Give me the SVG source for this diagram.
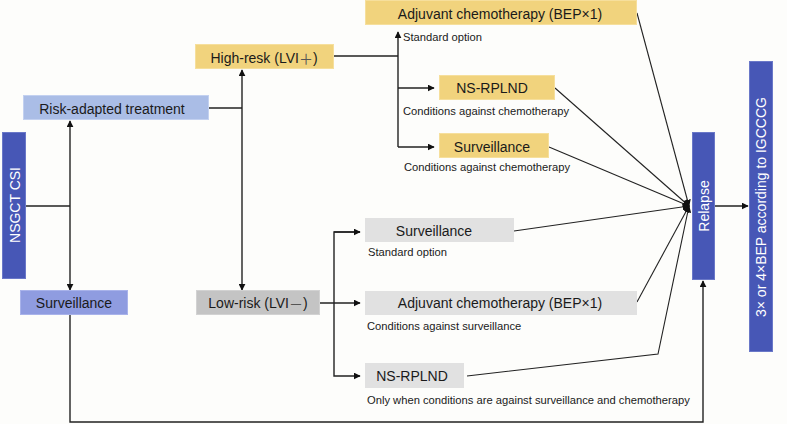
<svg xmlns="http://www.w3.org/2000/svg" width="787" height="424" viewBox="0 0 787 424">
<style>
text{font-family:"Liberation Sans",Arial,sans-serif;fill:#1a1a1a}
.t{font-size:14px;text-anchor:middle;dominant-baseline:central}
.s{font-size:11.2px;dominant-baseline:central}
.w{fill:#ffffff;font-size:14px;text-anchor:middle;dominant-baseline:central}
.cjk{font-family:"Noto Sans CJK SC",sans-serif;fill:#555}
.dark{fill:#4757b6;stroke:#6a78c8;stroke-width:1}
.lb{fill:#aabde6;stroke:#c3d1f0;stroke-width:1}
.pb{fill:#8f9ce0;stroke:#a9b3ea;stroke-width:1}
.gd{fill:#f1d37d;stroke:#f6df9c;stroke-width:1}
.gy{fill:#e1e1e1}
.lr{fill:#c4c4c4;stroke:#d2d2d2;stroke-width:1}
.c{fill:none;stroke:#222;stroke-width:1.4}
.d{fill:none;stroke:#222;stroke-width:1.1}
</style>
<defs>
<marker id="a" viewBox="0 0 10 10" refX="9" refY="5" markerWidth="7" markerHeight="7" markerUnits="userSpaceOnUse" orient="auto">
<path d="M0,0 L10,5 L0,10 z" fill="#111"/>
</marker>
</defs>
<rect width="787" height="424" fill="#fdfdfb"/>
<g id="connectors">
<line class="c" x1="26" y1="206" x2="70" y2="206"/>
<line class="c" x1="70" y1="206" x2="70" y2="121" marker-end="url(#a)"/>
<line class="c" x1="70" y1="206" x2="70" y2="290" marker-end="url(#a)"/>
<line class="c" x1="209" y1="108" x2="242" y2="108"/>
<line class="c" x1="242" y1="108" x2="242" y2="70" marker-end="url(#a)"/>
<line class="c" x1="242" y1="108" x2="242" y2="290" marker-end="url(#a)"/>
<line class="c" x1="334" y1="56" x2="398" y2="56"/>
<line class="c" x1="398" y1="147" x2="398" y2="32" marker-end="url(#a)"/>
<line class="c" x1="398" y1="88" x2="434" y2="88" marker-end="url(#a)"/>
<line class="c" x1="398" y1="147" x2="434" y2="147" marker-end="url(#a)"/>
<line class="c" x1="320" y1="303" x2="360" y2="303" marker-end="url(#a)"/>
<polyline class="c" points="360,232 334,232 334,376 360,376" marker-end="url(#a)"/>
<line class="c" x1="334" y1="232" x2="360" y2="232" marker-end="url(#a)"/>
<line class="d" x1="637" y1="13" x2="689" y2="206" marker-end="url(#a)"/>
<line class="d" x1="555" y1="88" x2="689" y2="206" marker-end="url(#a)"/>
<line class="d" x1="549" y1="147" x2="689" y2="206" marker-end="url(#a)"/>
<line class="d" x1="514" y1="231" x2="689" y2="206" marker-end="url(#a)"/>
<line class="d" x1="637" y1="302" x2="689" y2="206" marker-end="url(#a)"/>
<polyline class="d" points="467,376 658,354 689,206" marker-end="url(#a)"/>
<line class="c" x1="715" y1="206" x2="748" y2="206" marker-end="url(#a)"/>
<polyline class="c" points="70,315 70,422 703,422 703,281" marker-end="url(#a)"/>
</g>
<g id="nsgct">
<rect class="dark" x="2.5" y="132.5" width="23" height="146"/>
<text class="w" transform="translate(15,205) rotate(-90)">NSGCT CSI</text>
</g>
<g id="risk-adapted">
<rect class="lb" x="23.5" y="95.5" width="185" height="24"/>
<text class="t" x="112" y="109">Risk-adapted treatment</text>
</g>
<g id="surveillance-main">
<rect class="pb" x="20.5" y="290.5" width="107" height="24"/>
<text class="t" x="74" y="303">Surveillance</text>
</g>
<g id="high-risk">
<rect class="gd" x="195.5" y="44.5" width="138" height="24"/>
<text class="t" x="264" y="58">High-resk (LVI<tspan class="cjk">＋</tspan>)</text>
</g>
<g id="low-risk">
<rect class="lr" x="196.5" y="290.5" width="123" height="24"/>
<text class="t" x="258" y="303">Low-risk (LVI<tspan class="cjk">－</tspan>)</text>
</g>
<g id="hr-adjuvant">
<rect class="gd" x="365.5" y="0.5" width="271" height="24"/>
<text class="t" x="500" y="14">Adjuvant chemotherapy (BEP×1)</text>
<text class="s" x="403" y="37">Standard option</text>
</g>
<g id="hr-nsrplnd">
<rect class="gd" x="439.5" y="75.5" width="115" height="24"/>
<text class="t" x="492" y="88">NS-RPLND</text>
<text class="s" x="403" y="111">Conditions against chemotherapy</text>
</g>
<g id="hr-surveillance">
<rect class="gd" x="439.5" y="133.5" width="109" height="24"/>
<text class="t" x="492" y="147">Surveillance</text>
<text class="s" x="404" y="167">Conditions against chemotherapy</text>
</g>
<g id="lr-surveillance">
<rect class="gy" x="365" y="218" width="149" height="24"/>
<text class="t" x="434" y="231">Surveillance</text>
<text class="s" x="368" y="252">Standard option</text>
</g>
<g id="lr-adjuvant">
<rect class="gy" x="365" y="291" width="272" height="24"/>
<text class="t" x="500" y="303">Adjuvant chemotherapy (BEP×1)</text>
<text class="s" x="367" y="326">Conditions against surveillance</text>
</g>
<g id="lr-nsrplnd">
<rect class="gy" x="365" y="363" width="99" height="25"/>
<text class="t" x="412" y="376">NS-RPLND</text>
<text class="s" x="367" y="400">Only when conditions are against surveillance and chemotherapy</text>
</g>
<g id="relapse">
<rect class="dark" x="692.5" y="132.5" width="22" height="147"/>
<text class="w" transform="translate(704,206) rotate(-90)">Relapse</text>
</g>
<g id="igcccg">
<rect class="dark" x="749.5" y="61.5" width="23" height="290"/>
<text class="w" transform="translate(761,207) rotate(-90)">3× or 4×BEP according to IGCCCG</text>
</g>
</svg>
